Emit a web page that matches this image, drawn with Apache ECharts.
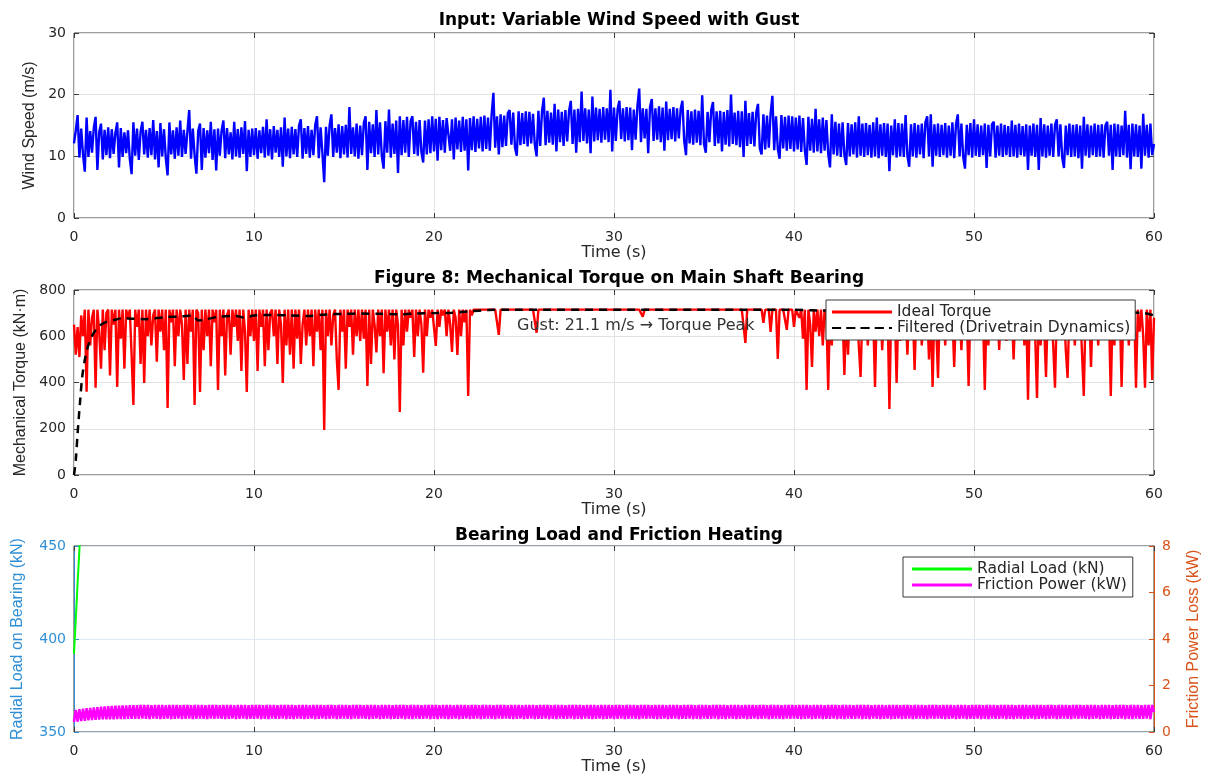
<!DOCTYPE html>
<html>
<head>
<meta charset="utf-8">
<script src="https://cdn.jsdelivr.net/npm/echarts@6/dist/echarts.min.js"></script>
<style>
html,body{margin:0;padding:0;background:#fff;}
#c{width:1205px;height:778px;}
</style>
</head>
<body>
<div id="c"></div>
<script>
// ---------------- DATA ----------------
const sampleStep = 0.1; // s, sampling of the three dense signals (t = 0 .. 60 s)

// Wind speed (m/s), one row = 2 s
const windSpeed = [
12.1,14.2,16.7,9.8,14.5,10.3,7.5,16.3,9.9,14.1,10.6,14.6,16.4,7.8,13.9,15.3,9.5,14.3,10.2,14.7,
9.7,14.4,10.4,13.8,15.5,8.2,14.6,9.9,13.9,10.5,14.2,9.6,7.1,15.5,10.1,14.5,9.4,14.0,15.6,10.3,
14.3,9.8,14.6,10.2,15.9,9.5,14.1,8.2,15.4,10.0,14.4,9.7,6.9,15.5,10.3,14.2,9.6,14.7,10.1,15.8,
9.9,14.3,10.4,14.0,17.5,9.6,14.5,10.2,7.2,14.1,15.3,7.8,14.6,9.8,14.2,10.5,15.6,9.4,14.4,7.7,
14.5,10.1,14.2,15.8,9.7,14.6,10.3,13.9,9.5,15.6,10.0,14.4,9.8,14.7,10.4,15.7,7.6,14.3,9.9,14.5,
10.2,14.6,9.6,14.2,10.5,14.8,9.8,16.0,10.1,14.4,9.5,14.9,10.6,14.3,9.9,14.7,8.3,16.3,10.0,14.5,
9.7,14.8,10.3,14.4,9.9,15.0,16.0,9.6,14.6,10.4,14.9,9.8,14.3,10.2,15.1,16.5,9.7,14.7,10.5,5.8,
14.8,10.1,15.0,16.8,9.9,14.6,10.6,15.2,9.7,14.9,10.3,15.1,9.8,18.0,10.4,14.7,10.0,15.3,9.6,15.0,
10.2,15.4,16.5,7.8,15.6,10.5,15.2,9.9,17.5,10.3,15.5,10.1,8.0,15.7,10.6,17.6,9.8,15.3,10.4,15.8,
7.3,16.5,10.2,15.9,10.6,16.4,9.9,15.7,16.5,10.4,15.6,10.1,15.9,10.7,9.0,15.8,10.3,16.0,10.5,16.5,
10.8,16.1,9.3,16.4,11.0,15.9,10.6,16.2,16.3,10.9,16.0,9.5,16.3,11.1,15.8,10.7,16.4,10.9,16.0,7.7,
16.2,11.0,16.5,10.7,16.1,11.3,16.4,10.8,16.6,11.2,16.3,10.9,16.7,20.3,11.4,16.5,10.3,16.8,11.5,16.6,
11.7,17.0,17.5,11.9,17.1,11.4,10.1,17.3,11.8,17.0,12.0,17.3,11.6,17.2,12.1,16.9,11.9,10.0,17.4,11.7,
17.3,19.5,11.8,17.4,12.2,17.1,11.9,18.5,10.8,17.6,12.3,17.2,11.7,17.5,12.4,17.3,19.0,12.0,17.6,10.6,
17.7,12.3,20.5,12.5,17.8,12.1,17.6,10.5,19.7,12.4,17.9,12.6,17.7,12.2,18.0,12.7,17.8,12.3,20.8,10.8,
17.9,12.5,17.7,19.0,12.8,17.8,12.4,18.0,12.6,17.9,11.0,17.6,12.7,18.1,21.0,12.3,17.8,12.9,17.7,10.5,
18.0,19.3,12.5,17.8,12.7,18.1,12.3,17.9,10.9,18.9,12.6,17.7,12.8,18.0,12.4,17.8,12.9,17.6,19.0,12.5,
10.2,17.5,12.1,17.3,11.9,17.6,12.2,17.4,11.8,19.9,12.0,10.6,17.2,12.3,17.5,18.8,11.7,17.3,12.1,17.4,
10.8,17.2,11.9,17.5,11.6,20.0,12.0,17.1,11.8,17.4,11.5,17.3,9.9,19.0,11.7,17.0,12.0,17.2,11.6,17.1,
18.5,11.3,10.3,16.8,11.1,16.6,11.4,16.9,19.8,11.0,16.5,11.2,9.6,16.7,11.3,16.4,10.9,16.6,11.2,16.5,
10.8,16.3,11.1,16.6,10.7,16.2,11.0,8.6,16.4,10.9,16.1,10.6,17.7,10.8,16.0,10.5,16.3,10.9,15.9,10.4,
8.2,16.8,10.3,15.6,10.1,15.3,9.9,15.5,10.2,8.6,15.4,10.0,15.2,10.3,15.5,9.8,16.5,10.1,15.3,9.9,
15.4,10.2,15.1,9.8,15.5,10.0,16.3,9.7,15.2,10.1,15.4,9.9,15.3,7.6,15.0,10.2,16.0,9.8,15.4,10.0,
15.3,9.9,16.7,10.1,8.3,15.2,10.0,15.4,9.8,15.1,10.3,15.3,9.7,15.5,16.5,10.0,16.8,8.3,15.2,10.1,
15.3,9.9,15.1,10.2,15.4,9.8,15.0,10.1,15.5,9.7,15.2,16.8,10.0,15.3,9.9,8.0,15.1,10.2,15.4,9.8,
16.0,10.1,15.2,9.9,15.0,10.2,15.3,8.1,15.1,10.0,15.2,15.6,9.8,15.0,10.1,15.3,9.9,15.1,10.2,14.9,
9.9,15.8,10.0,15.1,9.8,15.3,10.2,14.9,10.0,15.2,7.8,15.0,10.1,15.3,9.9,15.1,7.8,16.2,10.0,15.2,
9.8,15.0,10.1,15.3,9.9,15.1,16.0,10.0,15.2,9.8,8.1,15.0,10.2,15.3,9.9,15.1,10.0,15.2,9.7,15.0,
8.0,16.4,10.1,15.2,9.8,15.0,10.2,15.3,9.9,15.1,10.0,15.2,9.8,15.0,15.6,10.1,15.1,7.8,15.3,10.0,
15.2,9.9,15.0,10.2,17.4,9.8,15.1,7.9,15.3,10.0,15.2,9.9,15.0,8.0,16.9,10.1,15.1,9.8,15.3,10.2,
12.0
];

// Ideal torque (kN·m), one row = 2 s
const idealTorque = [
650,520,640,510,690,600,715,360,715,560,680,715,377,715,620,460,715,540,700,715,
430,715,650,715,381,715,590,715,460,715,680,715,520,303,715,640,715,480,715,398,
715,600,715,560,690,715,490,715,620,715,540,715,290,715,660,715,470,715,600,715,
650,411,715,480,715,620,715,303,715,700,359,715,540,715,600,715,470,715,660,715,
368,715,600,715,430,690,715,520,715,640,715,580,715,450,715,620,359,715,600,715,
580,715,450,715,640,715,470,715,540,700,715,600,715,480,715,650,398,715,560,715,
520,715,460,715,590,715,480,650,715,560,715,600,715,470,715,620,715,540,715,195,
715,600,715,560,690,715,500,368,715,620,715,460,715,640,715,520,715,600,715,580,
715,590,715,385,715,480,715,650,530,715,600,715,440,715,620,715,560,715,500,715,
650,273,715,560,715,620,715,680,715,511,715,600,715,650,442,715,600,715,680,715,
715,558,715,640,715,690,715,600,715,650,532,715,680,519,715,600,715,660,715,342,
715,690,715,715,715,715,715,715,715,715,715,715,715,715,715,715,606,715,715,715,
715,715,715,715,715,715,715,715,715,715,715,715,715,715,715,715,715,615,715,715,
715,715,715,715,715,715,715,715,715,715,715,715,715,715,715,715,715,715,715,715,
715,715,715,715,715,715,715,715,715,715,715,715,715,715,715,715,715,715,715,715,
715,715,715,715,715,715,715,715,715,715,715,715,715,715,715,715,684,715,715,715,
715,715,715,715,715,715,715,715,715,715,715,715,715,715,715,715,715,715,715,715,
715,715,715,715,715,715,715,715,715,715,715,715,715,715,715,715,715,715,715,715,
715,715,715,715,715,715,715,715,715,715,715,715,715,571,715,715,715,715,715,715,
715,715,715,658,715,715,715,619,715,715,715,502,715,715,715,715,628,715,715,715,
640,715,715,680,715,590,715,368,715,650,467,715,620,715,600,715,560,715,690,368,
715,560,715,620,715,600,715,680,433,715,520,715,640,715,600,715,560,424,715,650,
715,560,715,600,690,381,715,620,715,540,715,650,715,286,715,600,715,398,715,580,
715,640,715,520,715,600,715,454,715,680,715,560,715,620,715,500,715,381,715,640,
420,715,600,715,560,715,640,715,690,467,715,600,715,540,715,660,715,385,715,620,
715,590,715,640,715,680,368,715,560,715,620,715,600,715,541,715,660,715,580,715,
640,715,500,715,600,715,680,715,560,715,325,715,620,715,600,333,715,560,715,640,
424,715,620,715,560,377,715,640,715,600,715,540,420,715,680,715,560,715,620,715,
715,342,715,600,715,467,715,620,715,560,715,640,715,600,715,680,342,715,560,715,
640,715,381,715,600,715,560,715,680,715,377,715,620,715,600,377,715,560,715,411,
680
];

// Filtered torque (drivetrain dynamics)
const filteredTime = [0,0.1,0.2,0.33,0.45,0.6,0.75,0.9,1.1,1.3,1.5,1.8,2.2,2.7,3.2,4,5,6,6.6,6.9,7.3,8,9,9.5,10,11,12,13,14,15,16,17,18,19,20,21,22,23,24,40,41,44,48,52,56,58,59.5,60];
const filteredTorque = [0,65,180,311,420,498,550,584,615,636,650,662,670,678,676,674,682,686,690,668,672,684,688,680,690,692,690,688,694,697,698,697,695,698,700,702,708,713,715,715,712,708,706,705,704,703,700,690];

// Radial load (kN) – leaves the visible range right after start
const radialTime = [0,0.1,0.2,0.3,0.4,0.6,1,60];
const radialLoad = [392,411,430,448,466,490,520,520];

// Friction power (kW), one row = 2 s
const frictionPower = [
0.43,0.95,0.45,0.98,0.47,1.00,0.48,1.02,0.50,1.04,0.51,1.06,0.52,1.07,0.53,1.09,0.54,1.10,0.54,1.11,
0.55,1.12,0.55,1.13,0.56,1.13,0.56,1.14,0.56,1.14,0.57,1.15,0.57,1.15,0.57,1.15,0.57,1.16,0.58,1.16,
0.57,1.16,0.56,1.15,0.58,1.16,0.57,1.17,0.56,1.16,0.57,1.15,0.58,1.16,0.56,1.17,0.57,1.16,0.58,1.15,
0.56,1.16,0.57,1.17,0.58,1.15,0.56,1.16,0.57,1.16,0.58,1.17,0.57,1.15,0.56,1.16,0.58,1.16,0.57,1.17,
0.58,1.15,0.57,1.16,0.56,1.17,0.57,1.16,0.58,1.15,0.56,1.16,0.57,1.17,0.58,1.16,0.56,1.15,0.57,1.16,
0.57,1.17,0.58,1.16,0.56,1.15,0.57,1.16,0.56,1.17,0.58,1.16,0.57,1.15,0.57,1.16,0.58,1.17,0.56,1.16,
0.57,1.16,0.56,1.15,0.58,1.16,0.57,1.17,0.56,1.16,0.57,1.15,0.58,1.16,0.56,1.17,0.57,1.16,0.58,1.15,
0.56,1.16,0.57,1.17,0.58,1.15,0.56,1.16,0.57,1.16,0.58,1.17,0.57,1.15,0.56,1.16,0.58,1.16,0.57,1.17,
0.58,1.15,0.57,1.16,0.56,1.17,0.57,1.16,0.58,1.15,0.56,1.16,0.57,1.17,0.58,1.16,0.56,1.15,0.57,1.16,
0.57,1.17,0.58,1.16,0.56,1.15,0.57,1.16,0.56,1.17,0.58,1.16,0.57,1.15,0.57,1.16,0.58,1.17,0.56,1.16,
0.57,1.16,0.56,1.15,0.58,1.16,0.57,1.17,0.56,1.16,0.57,1.15,0.58,1.16,0.56,1.17,0.57,1.16,0.58,1.15,
0.56,1.16,0.57,1.17,0.58,1.15,0.56,1.16,0.57,1.16,0.58,1.17,0.57,1.15,0.56,1.16,0.58,1.16,0.57,1.17,
0.58,1.15,0.57,1.16,0.56,1.17,0.57,1.16,0.58,1.15,0.56,1.16,0.57,1.17,0.58,1.16,0.56,1.15,0.57,1.16,
0.57,1.17,0.58,1.16,0.56,1.15,0.57,1.16,0.56,1.17,0.58,1.16,0.57,1.15,0.57,1.16,0.58,1.17,0.56,1.16,
0.57,1.16,0.56,1.15,0.58,1.16,0.57,1.17,0.56,1.16,0.57,1.15,0.58,1.16,0.56,1.17,0.57,1.16,0.58,1.15,
0.56,1.16,0.57,1.17,0.58,1.15,0.56,1.16,0.57,1.16,0.58,1.17,0.57,1.15,0.56,1.16,0.58,1.16,0.57,1.17,
0.58,1.15,0.57,1.16,0.56,1.17,0.57,1.16,0.58,1.15,0.56,1.16,0.57,1.17,0.58,1.16,0.56,1.15,0.57,1.16,
0.57,1.17,0.58,1.16,0.56,1.15,0.57,1.16,0.56,1.17,0.58,1.16,0.57,1.15,0.57,1.16,0.58,1.17,0.56,1.16,
0.57,1.16,0.56,1.15,0.58,1.16,0.57,1.17,0.56,1.16,0.57,1.15,0.58,1.16,0.56,1.17,0.57,1.16,0.58,1.15,
0.56,1.16,0.57,1.17,0.58,1.15,0.56,1.16,0.57,1.16,0.58,1.17,0.57,1.15,0.56,1.16,0.58,1.16,0.57,1.17,
0.58,1.15,0.57,1.16,0.56,1.17,0.57,1.16,0.58,1.15,0.56,1.16,0.57,1.17,0.58,1.16,0.56,1.15,0.57,1.16,
0.57,1.17,0.58,1.16,0.56,1.15,0.57,1.16,0.56,1.17,0.58,1.16,0.57,1.15,0.57,1.16,0.58,1.17,0.56,1.16,
0.57,1.16,0.56,1.15,0.58,1.16,0.57,1.17,0.56,1.16,0.57,1.15,0.58,1.16,0.56,1.17,0.57,1.16,0.58,1.15,
0.56,1.16,0.57,1.17,0.58,1.15,0.56,1.16,0.57,1.16,0.58,1.17,0.57,1.15,0.56,1.16,0.58,1.16,0.57,1.17,
0.58,1.15,0.57,1.16,0.56,1.17,0.57,1.16,0.58,1.15,0.56,1.16,0.57,1.17,0.58,1.16,0.56,1.15,0.57,1.16,
0.57,1.17,0.58,1.16,0.56,1.15,0.57,1.16,0.56,1.17,0.58,1.16,0.57,1.15,0.57,1.16,0.58,1.17,0.56,1.16,
0.57,1.16,0.56,1.15,0.58,1.16,0.57,1.17,0.56,1.16,0.57,1.15,0.58,1.16,0.56,1.17,0.57,1.16,0.58,1.15,
0.56,1.16,0.57,1.17,0.58,1.15,0.56,1.16,0.57,1.16,0.58,1.17,0.57,1.15,0.56,1.16,0.58,1.16,0.57,1.17,
0.58,1.15,0.57,1.16,0.56,1.17,0.57,1.16,0.58,1.15,0.56,1.16,0.57,1.17,0.58,1.16,0.56,1.15,0.57,1.16,
0.57,1.17,0.58,1.16,0.56,1.15,0.57,1.16,0.56,1.17,0.58,1.16,0.57,1.15,0.57,1.16,0.58,1.17,0.56,1.16,
0.86
];

// ---------------- CHART ----------------
const withTime = arr => arr.map((v, i) => [Math.round(i * sampleStep * 1000) / 1000, v]);
const zipPairs = (xs, ys) => xs.map((x, i) => [x, ys[i]]);

const FONT_H = '"DejaVu Sans", sans-serif';            // horizontal texts (reference is wide)
const FONT_V = '"Liberation Sans", Arial, sans-serif'; // vertical axis names
const TXT = '#262626';
const AX = '#3a3a3a';
const GRIDC = '#e3e3e3';
const BLUE_AX = '#2f8fd6';
const ORANGE_AX = '#D95319';

const grids = [
  {left: 74, right: 51, top: 33, height: 185},
  {left: 74, right: 51, top: 290, height: 185},
  {left: 74, right: 51, top: 546, height: 186}
].map(g => Object.assign(g, {show: true, borderColor: AX, borderWidth: 1, backgroundColor: '#fff',
                              containLabel: false, outerBoundsMode: 'none'}));

const tickStyle = color => ({show: true, inside: true, length: 5, lineStyle: {color}});

function xBottom(gi) {
  return {
    type: 'value', gridIndex: gi, min: 0, max: 60, interval: 10, position: 'bottom',
    name: 'Time (s)', nameLocation: 'middle', nameGap: 27,
    nameTextStyle: {fontFamily: FONT_H, fontSize: 16, color: TXT},
    axisLine: {show: false, onZero: false}, axisTick: tickStyle(AX),
    axisLabel: {fontFamily: FONT_H, fontSize: 14, color: TXT, margin: 12},
    splitLine: {show: true, lineStyle: {color: GRIDC, width: 1}}
  };
}
function xTop(gi) {
  return {
    type: 'value', gridIndex: gi, min: 0, max: 60, interval: 10, position: 'top',
    axisLine: {show: false, onZero: false}, axisTick: tickStyle(AX),
    axisLabel: {show: false}, splitLine: {show: false}
  };
}
function yMirror(gi, min, max, interval) {
  return {
    type: 'value', gridIndex: gi, min, max, interval, position: 'right',
    axisLine: {show: false, onZero: false}, axisTick: tickStyle(AX),
    axisLabel: {show: false}, splitLine: {show: false}
  };
}

const dashIcon = 'path://M0,0h9v2h-9z M14,0h9v2h-9z M28,0h9v2h-9z M42,0h9v2h-9z M56,0h3v2h-3z';

const option = {
  animation: false,
  backgroundColor: '#fff',
  title: [
    {text: 'Input: Variable Wind Speed with Gust', left: 614, top: 7, textAlign: 'center',
     textStyle: {fontFamily: FONT_H, fontSize: 17, fontWeight: 'bold', color: '#000'}},
    {text: 'Figure 8: Mechanical Torque on Main Shaft Bearing', left: 614, top: 265, textAlign: 'center',
     textStyle: {fontFamily: FONT_H, fontSize: 17, fontWeight: 'bold', color: '#000'}},
    {text: 'Bearing Load and Friction Heating', left: 614, top: 522, textAlign: 'center',
     textStyle: {fontFamily: FONT_H, fontSize: 17, fontWeight: 'bold', color: '#000'}}
  ],
  grid: grids,
  xAxis: [xBottom(0), xTop(0), xBottom(1), xTop(1), xBottom(2), xTop(2)],
  yAxis: [
    {type: 'value', gridIndex: 0, min: 0, max: 30, interval: 10,
     name: 'Wind Speed (m/s)', nameLocation: 'middle', nameGap: 36,
     nameTextStyle: {fontFamily: FONT_V, fontSize: 16, color: TXT},
     axisLine: {show: false, onZero: false}, axisTick: tickStyle(AX),
     axisLabel: {fontFamily: FONT_H, fontSize: 14, color: TXT, margin: 8},
     splitLine: {show: true, lineStyle: {color: GRIDC}}},
    yMirror(0, 0, 30, 10),
    {type: 'value', gridIndex: 1, min: 0, max: 800, interval: 200,
     name: 'Mechanical Torque (kN·m)', nameLocation: 'middle', nameGap: 45,
     nameTextStyle: {fontFamily: FONT_V, fontSize: 16, color: TXT},
     axisLine: {show: false, onZero: false}, axisTick: tickStyle(AX),
     axisLabel: {fontFamily: FONT_H, fontSize: 14, color: TXT, margin: 8},
     splitLine: {show: true, lineStyle: {color: GRIDC}}},
    yMirror(1, 0, 800, 200),
    {type: 'value', gridIndex: 2, min: 350, max: 450, interval: 50, position: 'left',
     name: 'Radial Load on Bearing (kN)', nameLocation: 'middle', nameGap: 48,
     nameTextStyle: {fontFamily: FONT_V, fontSize: 16, color: BLUE_AX},
     axisLine: {show: true, onZero: false, lineStyle: {color: BLUE_AX, width: 1}},
     axisTick: tickStyle(BLUE_AX),
     axisLabel: {fontFamily: FONT_H, fontSize: 14, color: BLUE_AX, margin: 8},
     splitLine: {show: true, lineStyle: {color: '#dfeaf4'}}},
    {type: 'value', gridIndex: 2, min: 0, max: 8, interval: 2, position: 'right',
     name: 'Friction Power Loss (kW)', nameLocation: 'middle', nameGap: 32, nameRotate: 90,
     nameTextStyle: {fontFamily: FONT_V, fontSize: 16, color: ORANGE_AX},
     axisLine: {show: true, onZero: false, lineStyle: {color: ORANGE_AX, width: 1}},
     axisTick: tickStyle(ORANGE_AX),
     axisLabel: {fontFamily: FONT_H, fontSize: 14, color: ORANGE_AX, margin: 8},
     splitLine: {show: false}}
  ],
  legend: [
    {left: 826, top: 300, orient: 'vertical', z: 10,
     data: [{name: 'Ideal Torque', icon: 'rect'}, {name: 'Filtered (Drivetrain Dynamics)', icon: dashIcon}],
     backgroundColor: '#fff', borderColor: AX, borderWidth: 1, padding: [4, 5, 4, 6], itemGap: 0,
     itemWidth: 60, itemHeight: 3,
     textStyle: {fontFamily: FONT_H, fontSize: 15.5, color: TXT, lineHeight: 15}},
    {left: 903, top: 557, orient: 'vertical', z: 10,
     data: [{name: 'Radial Load (kN)', icon: 'rect'}, {name: 'Friction Power (kW)', icon: 'rect'}],
     backgroundColor: '#fff', borderColor: AX, borderWidth: 1, padding: [4, 6, 4, 9], itemGap: 0,
     itemWidth: 60, itemHeight: 3,
     textStyle: {fontFamily: FONT_H, fontSize: 15.5, color: TXT, lineHeight: 15}}
  ],
  graphic: [
    {type: 'text', left: 517, top: 318, z: 50,
     style: {text: 'Gust: 21.1 m/s \u2192 Torque Peak', fontFamily: FONT_H, fontSize: 16, fill: '#333'}}
  ],
  series: [
    {name: 'Wind Speed', type: 'line', xAxisIndex: 0, yAxisIndex: 0, data: withTime(windSpeed),
     symbol: 'none', sampling: null, lineStyle: {color: '#0000ff', width: 2.4}, itemStyle: {color: '#0000ff'}},
    {name: 'Ideal Torque', type: 'line', xAxisIndex: 2, yAxisIndex: 2, data: withTime(idealTorque),
     symbol: 'none', z: 2, lineStyle: {color: '#ff0000', width: 2.4}, itemStyle: {color: '#ff0000'}},
    {name: 'Filtered (Drivetrain Dynamics)', type: 'line', xAxisIndex: 2, yAxisIndex: 2,
     data: zipPairs(filteredTime, filteredTorque), symbol: 'none', smooth: 0.3, z: 3,
     lineStyle: {color: '#000', width: 2.5, type: [8, 6]}, itemStyle: {color: '#000'}},
    {name: 'Radial Load (kN)', type: 'line', xAxisIndex: 4, yAxisIndex: 4,
     data: zipPairs(radialTime, radialLoad), symbol: 'none', z: 2,
     lineStyle: {color: '#00ff00', width: 2}, itemStyle: {color: '#00ff00'}},
    {name: 'Friction Power (kW)', type: 'line', xAxisIndex: 4, yAxisIndex: 5, data: withTime(frictionPower),
     symbol: 'none', z: 2, lineStyle: {color: '#ff00ff', width: 2.5}, itemStyle: {color: '#ff00ff'}}
  ]
};

const chart = echarts.init(document.getElementById('c'), null, {renderer: 'canvas'});
chart.setOption(option);
</script>
</body>
</html>
